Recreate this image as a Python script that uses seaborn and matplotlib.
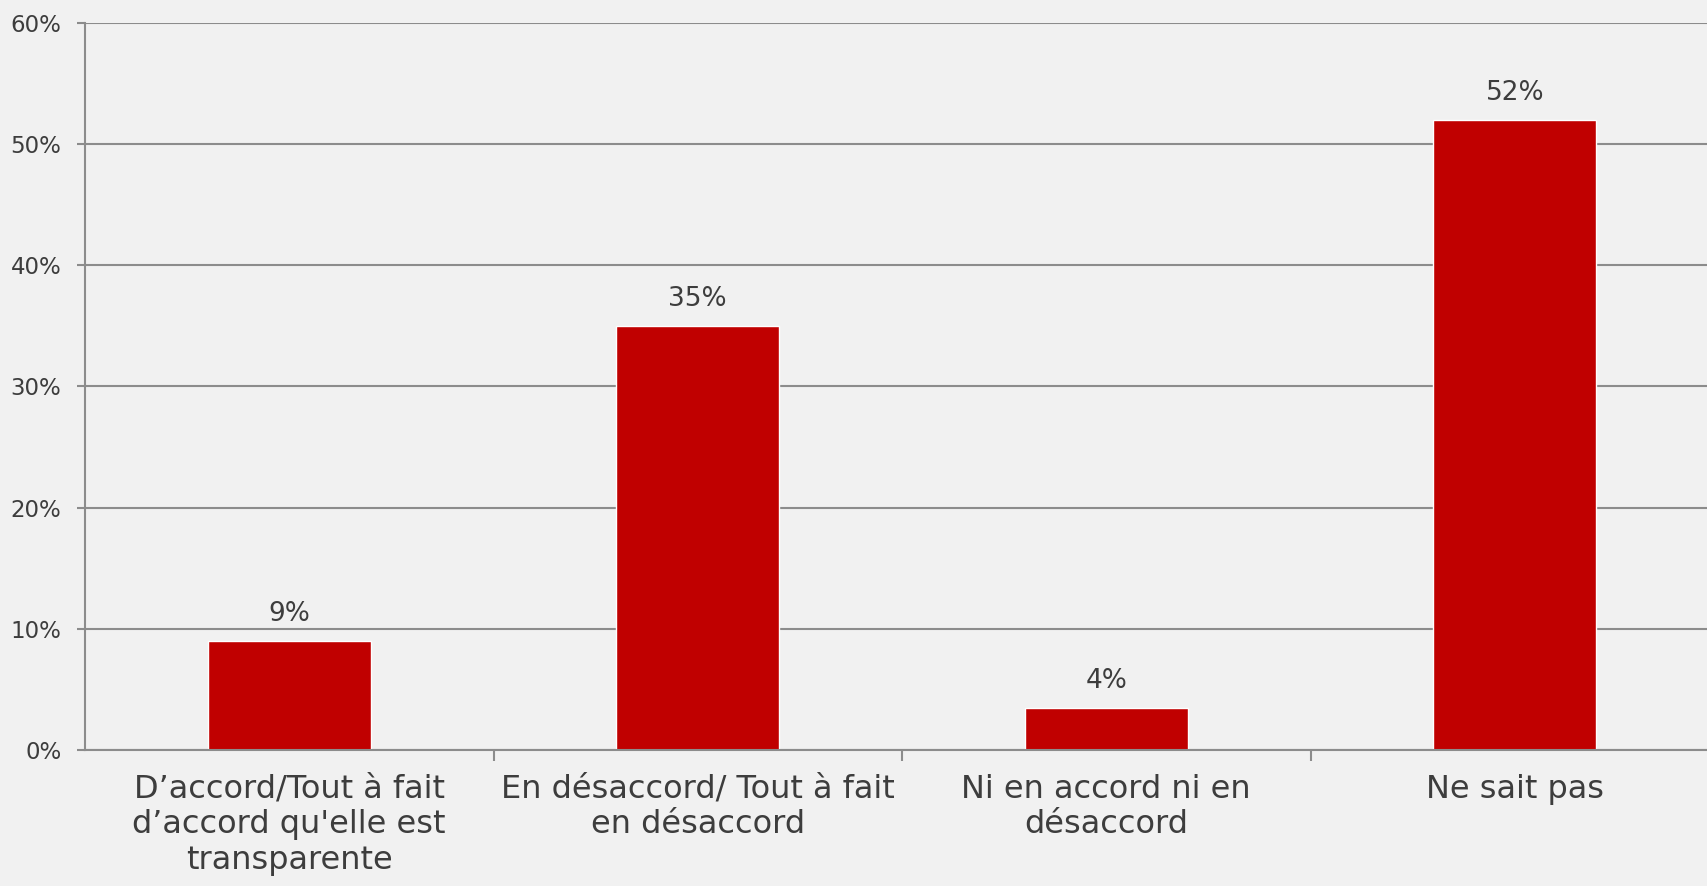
import matplotlib
matplotlib.use("Agg")
import matplotlib.pyplot as plt
import seaborn as sns
import pandas as pd
from matplotlib.ticker import FixedLocator

categories = [
    "D\u2019accord/Tout à fait\nd\u2019accord qu'elle est\ntransparente",
    "En désaccord/ Tout à fait\nen désaccord",
    "Ni en accord ni en\ndésaccord",
    "Ne sait pas",
]
values = [9, 35, 3.5, 52]
value_labels = ["9%", "35%", "4%", "52%"]
yticks = [0, 10, 20, 30, 40, 50, 60]
ytick_labels = ["0%", "10%", "20%", "30%", "40%", "50%", "60%"]

BG = "#f1f1f1"
TEXT = "#3d3d3d"
GRID = "#8c8c8c"
BAR = "#c00000"

sns.set_theme(style="white")
plt.rcParams["font.family"] = ["DejaVu Sans"]

fig = plt.figure(figsize=(17.07, 8.86), dpi=100)
fig.patch.set_facecolor(BG)
ax = fig.add_axes([85 / 1707, 1 - 750 / 886, (1719 - 85) / 1707, (750 - 22.7) / 886])
ax.set_facecolor(BG)

df = pd.DataFrame({"cat": categories, "val": values})
sns.barplot(data=df, x="cat", y="val", color=BAR, width=0.4, ax=ax, saturation=1)

ax.set_ylim(0, 60)
ax.set_xlim(-0.5, len(categories) - 0.5)
ax.set_yticks(yticks)
ax.set_yticklabels(ytick_labels)
ax.yaxis.grid(True, color=GRID, linewidth=1.5)
ax.set_axisbelow(True)
ax.set_xlabel("")
ax.set_ylabel("")

for s in ["top", "right"]:
    ax.spines[s].set_visible(False)
for s in ["left", "bottom"]:
    ax.spines[s].set_color(GRID)
    ax.spines[s].set_linewidth(1.5)

ax.tick_params(axis="y", length=6, width=1.5, color=GRID, labelsize=16.5,
               labelcolor=TEXT, pad=11, left=True)
ax.tick_params(axis="x", which="major", length=0, labelsize=23, labelcolor=TEXT, pad=17)
ax.xaxis.set_minor_locator(FixedLocator([0.5, 1.5, 2.5]))
ax.tick_params(axis="x", which="minor", length=8, width=1.5, color=GRID, bottom=True)
for lbl in ax.get_xticklabels():
    lbl.set_linespacing(1.2)

ax.bar_label(ax.containers[0], labels=value_labels, padding=10, fontsize=19, color=TEXT)

fig.savefig("out.png", dpi=100, facecolor=BG)
